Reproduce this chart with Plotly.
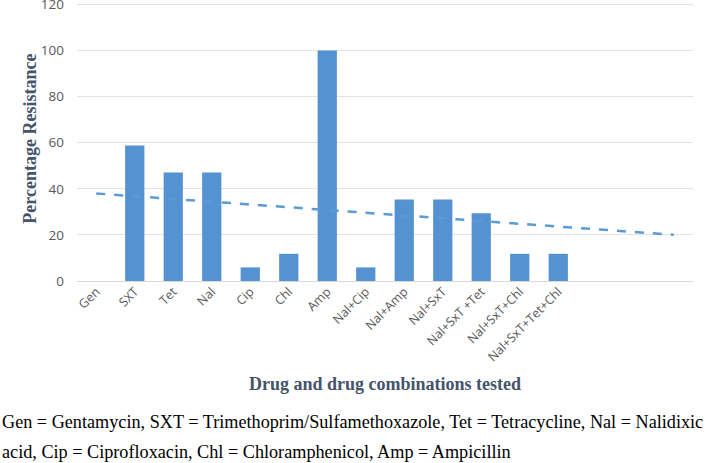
import numpy as np
import plotly.graph_objects as go

categories = ["Gen", "SXT", "Tet", "Nal", "Cip", "Chl", "Amp", "Nal+Cip", "Nal+Amp",
              "Nal+SxT", "Nal+SxT +Tet", "Nal+SxT+Chl", "Nal+SxT+Tet+Chl"]
resistance = [0, 58.8, 47.1, 47.1, 5.9, 11.8, 100, 5.9, 35.3, 35.3, 29.4, 11.8, 11.8]
forward_periods = 3
y_ticks = [0, 20, 40, 60, 80, 100, 120]

x = np.arange(len(categories))
slope, intercept = np.polyfit(x, resistance, 1)
x_trend = np.arange(len(categories) + forward_periods)
y_trend = slope * x_trend + intercept

fig = go.Figure()
fig.add_trace(go.Bar(x=x, y=resistance, width=0.5,
                     marker=dict(color="#5592D2", line=dict(width=0)),
                     hoverinfo="y"))
fig.add_trace(go.Scatter(x=x_trend, y=y_trend, mode="lines",
                         line=dict(color="#5B9BD5", width=2.5, dash="dash"),
                         hoverinfo="skip"))

fig.update_layout(
    width=709, height=463,
    margin=dict(l=77, r=16, t=2, b=182),
    paper_bgcolor="white", plot_bgcolor="white",
    showlegend=False,
    font=dict(family="Open Sans, Liberation Sans, sans-serif", color="#595959", size=12),
    xaxis=dict(range=[-0.5, len(categories) + forward_periods - 0.5],
               tickmode="array", tickvals=list(x), ticktext=categories,
               tickangle=-45, showgrid=False, zeroline=False,
               showline=False, ticks="", automargin=False,
               tickfont=dict(size=12.5, color="#595959")),
    yaxis=dict(range=[0, 121], tickvals=y_ticks, showgrid=True,
               gridcolor="#E3E3E3", gridwidth=1, zeroline=True,
               zerolinecolor="#D9D9D9", zerolinewidth=1,
               ticks="", automargin=False, ticklabelstandoff=12,
               ticklabeloverflow="allow",
               tickfont=dict(size=13.5, color="#595959")),
)

fig.add_annotation(text="<b>Percentage Resistance</b>", textangle=-90,
                   xref="paper", yref="paper", x=(30 - 77) / 616, y=0.51,
                   xanchor="center", yanchor="middle", showarrow=False,
                   font=dict(family="Liberation Serif, serif", size=18, color="#44546A"))
fig.add_annotation(text="<b>Drug and drug combinations tested</b>",
                   xref="paper", yref="paper", x=0.5, y=-0.369, xanchor="center", yanchor="middle",
                   showarrow=False,
                   font=dict(family="Liberation Serif, serif", size=18, color="#44546A"))
fig.add_annotation(text="Gen = Gentamycin, SXT = Trimethoprim/Sulfamethoxazole, Tet = Tetracycline, Nal = Nalidixic",
                   xref="paper", yref="paper", x=-77 / 616, y=-0.505, xanchor="left", yanchor="middle",
                   showarrow=False,
                   font=dict(family="Liberation Serif, serif", size=18.2, color="#000000"))
fig.add_annotation(text="acid, Cip = Ciprofloxacin, Chl = Chloramphenicol, Amp = Ampicillin",
                   xref="paper", yref="paper", x=-77 / 616, y=-0.613, xanchor="left", yanchor="middle",
                   showarrow=False,
                   font=dict(family="Liberation Serif, serif", size=18.2, color="#000000"))

fig.write_html("out.html", config={"displayModeBar": False},
               post_script="document.body.style.margin='0';document.body.style.overflow='hidden';")
